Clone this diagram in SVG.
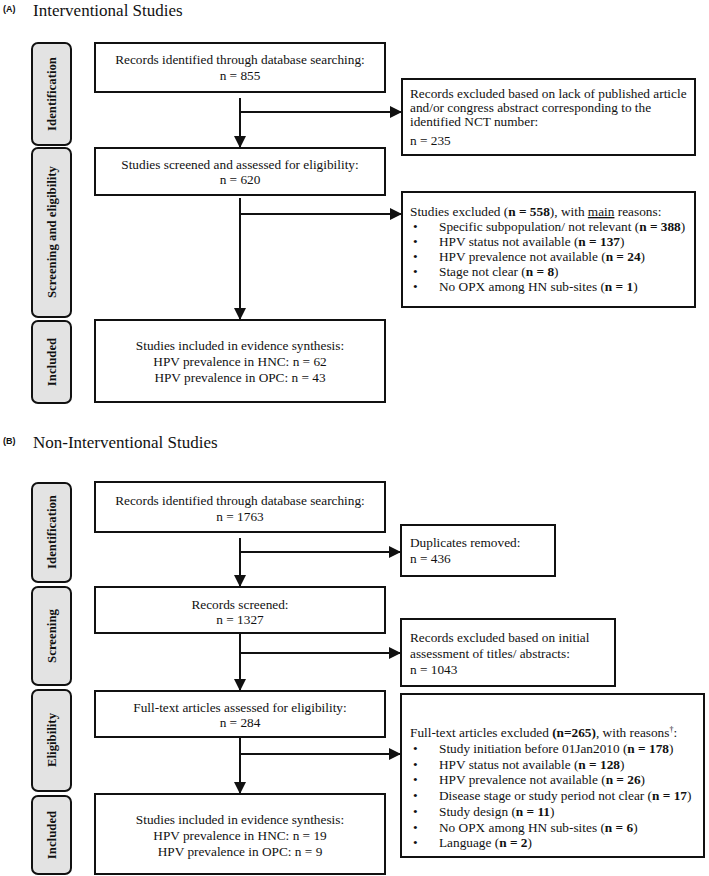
<svg xmlns="http://www.w3.org/2000/svg" width="709" height="876" viewBox="0 0 709 876">
<defs>
<style>
.t{font-family:"Liberation Serif","Times New Roman",serif;font-size:13.3px;fill:#111}
.c{text-anchor:middle}
.b{font-weight:bold}
.box{fill:#fff;stroke:#111;stroke-width:2}
.lab{fill:#e3e3e3;stroke:#111;stroke-width:2}
.lt{font-family:"Liberation Serif","Times New Roman",serif;font-size:12.8px;font-weight:bold;fill:#111;text-anchor:middle}
.ln{stroke:#111;stroke-width:2;fill:none}
.hd{font-family:"Liberation Serif","Times New Roman",serif;font-size:17px;fill:#111}
.pl{font-family:"Liberation Sans",Arial,sans-serif;font-size:9px;font-weight:bold;fill:#111}
</style>
<marker id="ah" markerWidth="12" markerHeight="12" refX="11" refY="6" orient="auto" markerUnits="userSpaceOnUse">
<path d="M0,0 L12,6 L0,12 Z" fill="#111"/>
</marker>
</defs>
<rect width="709" height="876" fill="#fff"/>

<g id="headA">
<text class="pl" x="3" y="12">(A)</text>
<text class="hd" x="33" y="16">Interventional Studies</text>
</g>
<g id="headB">
<text class="pl" x="3" y="444">(B)</text>
<text class="hd" x="33" y="448">Non-Interventional Studies</text>
</g>

<!-- Panel A labels -->
<g id="labA1"><rect class="lab" x="32" y="43" width="39" height="102" rx="6"/><text class="lt" transform="translate(56,94) rotate(-90)">Identification</text></g>
<g id="labA2"><rect class="lab" x="32" y="148" width="39" height="169" rx="6"/><text class="lt" transform="translate(56,232) rotate(-90)">Screening and eligibility</text></g>
<g id="labA3"><rect class="lab" x="32" y="321" width="39" height="82" rx="6"/><text class="lt" transform="translate(56,362) rotate(-90)">Included</text></g>

<!-- Panel A nodes -->
<g id="A1"><rect class="box" x="95" y="43" width="290" height="49"/>
<text class="t c" x="240" y="64">Records identified through database searching:</text>
<text class="t c" x="240" y="80">n = 855</text></g>
<g id="AX1"><rect class="box" x="402" y="79" width="293" height="76"/>
<text class="t" x="410" y="98">Records excluded based on lack of published article</text>
<text class="t" x="410" y="112">and/or congress abstract corresponding to the</text>
<text class="t" x="410" y="126">identified NCT number:</text>
<text class="t" x="410" y="145">n = 235</text></g>
<g id="A2"><rect class="box" x="95" y="148" width="290" height="47"/>
<text class="t c" x="240" y="169">Studies screened and assessed for eligibility:</text>
<text class="t c" x="240" y="184">n = 620</text></g>
<g id="AX2"><rect class="box" x="402" y="192" width="293" height="115"/>
<text class="t" x="410" y="216">Studies excluded (<tspan class="b">n = 558</tspan>), with <tspan text-decoration="underline">main</tspan> reasons:</text>
<text class="t" x="413" y="231">•</text><text class="t" x="439" y="231">Specific subpopulation/ not relevant (<tspan class="b">n = 388</tspan>)</text>
<text class="t" x="413" y="246">•</text><text class="t" x="439" y="246">HPV status not available (<tspan class="b">n = 137</tspan>)</text>
<text class="t" x="413" y="261">•</text><text class="t" x="439" y="261">HPV prevalence not available (<tspan class="b">n = 24</tspan>)</text>
<text class="t" x="413" y="276">•</text><text class="t" x="439" y="276">Stage not clear (<tspan class="b">n = 8</tspan>)</text>
<text class="t" x="413" y="291">•</text><text class="t" x="439" y="291">No OPX among HN sub-sites (<tspan class="b">n = 1</tspan>)</text></g>
<g id="A3"><rect class="box" x="95" y="320" width="290" height="82"/>
<text class="t c" x="240" y="350">Studies included in evidence synthesis:</text>
<text class="t c" x="240" y="366">HPV prevalence in HNC: n = 62</text>
<text class="t c" x="240" y="382">HPV prevalence in OPC: n = 43</text></g>

<!-- Panel B labels -->
<g id="labB1"><rect class="lab" x="32" y="483" width="39" height="99" rx="6"/><text class="lt" transform="translate(56,532) rotate(-90)">Identification</text></g>
<g id="labB2"><rect class="lab" x="32" y="587" width="39" height="98" rx="6"/><text class="lt" transform="translate(56,636) rotate(-90)">Screening</text></g>
<g id="labB3"><rect class="lab" x="32" y="690" width="39" height="101" rx="6"/><text class="lt" transform="translate(56,740) rotate(-90)">Eligibility</text></g>
<g id="labB4"><rect class="lab" x="32" y="796" width="39" height="78" rx="6"/><text class="lt" transform="translate(56,835) rotate(-90)">Included</text></g>

<!-- Panel B nodes -->
<g id="B1"><rect class="box" x="95" y="482" width="290" height="50"/>
<text class="t c" x="240" y="505">Records identified through database searching:</text>
<text class="t c" x="240" y="521">n = 1763</text></g>
<g id="BX1"><rect class="box" x="401" y="525" width="154" height="51"/>
<text class="t" x="410" y="547">Duplicates removed:</text>
<text class="t" x="410" y="563">n = 436</text></g>
<g id="B2"><rect class="box" x="95" y="587" width="290" height="46"/>
<text class="t c" x="240" y="609">Records screened:</text>
<text class="t c" x="240" y="624">n = 1327</text></g>
<g id="BX2"><rect class="box" x="401" y="619" width="214" height="67"/>
<text class="t" x="410" y="642">Records excluded based on initial</text>
<text class="t" x="410" y="658">assessment of titles/ abstracts:</text>
<text class="t" x="410" y="674">n = 1043</text></g>
<g id="B3"><rect class="box" x="95" y="691" width="290" height="46"/>
<text class="t c" x="240" y="712">Full-text articles assessed for eligibility:</text>
<text class="t c" x="240" y="727">n = 284</text></g>
<g id="BX3"><rect class="box" x="401" y="694" width="303" height="163"/>
<text class="t" x="410" y="737">Full-text articles excluded <tspan class="b">(n=265)</tspan>, with reasons<tspan font-size="8" dy="-5">†</tspan><tspan dy="5">:</tspan></text>
<text class="t" x="413" y="753">•</text><text class="t" x="439" y="753">Study initiation before 01Jan2010 (<tspan class="b">n = 178</tspan>)</text>
<text class="t" x="413" y="769">•</text><text class="t" x="439" y="769">HPV status not available (<tspan class="b">n = 128</tspan>)</text>
<text class="t" x="413" y="784">•</text><text class="t" x="439" y="784">HPV prevalence not available (<tspan class="b">n = 26</tspan>)</text>
<text class="t" x="413" y="800">•</text><text class="t" x="439" y="800">Disease stage or study period not clear (<tspan class="b">n = 17</tspan>)</text>
<text class="t" x="413" y="816">•</text><text class="t" x="439" y="816">Study design (<tspan class="b">n = 11</tspan>)</text>
<text class="t" x="413" y="832">•</text><text class="t" x="439" y="832">No OPX among HN sub-sites (<tspan class="b">n = 6</tspan>)</text>
<text class="t" x="413" y="847">•</text><text class="t" x="439" y="847">Language (<tspan class="b">n = 2</tspan>)</text></g>
<g id="B4"><rect class="box" x="95" y="794" width="290" height="80"/>
<text class="t c" x="240" y="824">Studies included in evidence synthesis:</text>
<text class="t c" x="240" y="840">HPV prevalence in HNC: n = 19</text>
<text class="t c" x="240" y="856">HPV prevalence in OPC: n = 9</text></g>

<!-- connectors -->
<g id="connectors">
<line class="ln" x1="240" y1="98" x2="240" y2="147" marker-end="url(#ah)"/>
<line class="ln" x1="241" y1="112" x2="401" y2="112" marker-end="url(#ah)"/>
<line class="ln" x1="240" y1="198" x2="240" y2="319" marker-end="url(#ah)"/>
<line class="ln" x1="241" y1="214" x2="401" y2="214" marker-end="url(#ah)"/>
<line class="ln" x1="240" y1="538" x2="240" y2="586" marker-end="url(#ah)"/>
<line class="ln" x1="241" y1="552" x2="400" y2="552" marker-end="url(#ah)"/>
<line class="ln" x1="240" y1="633" x2="240" y2="690" marker-end="url(#ah)"/>
<line class="ln" x1="241" y1="653" x2="400" y2="653" marker-end="url(#ah)"/>
<line class="ln" x1="240" y1="737" x2="240" y2="793" marker-end="url(#ah)"/>
<line class="ln" x1="241" y1="754" x2="400" y2="754" marker-end="url(#ah)"/>
</g>
</svg>
